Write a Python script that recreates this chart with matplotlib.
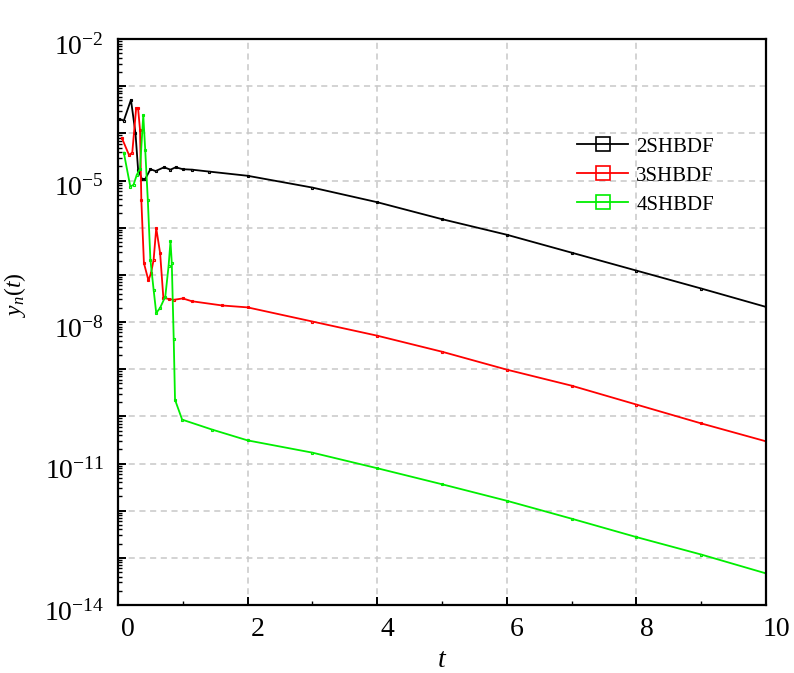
import numpy as np
import matplotlib
matplotlib.use("Agg")
import matplotlib.pyplot as plt
from matplotlib.ticker import LogLocator, FixedLocator, MultipleLocator, FuncFormatter
from matplotlib.transforms import ScaledTranslation
from matplotlib.lines import Line2D

plt.rcParams['font.family'] = ['Liberation Serif', 'DejaVu Serif']
plt.rcParams['mathtext.fontset'] = 'custom'
plt.rcParams['mathtext.rm'] = 'Liberation Serif'
plt.rcParams['mathtext.it'] = 'Liberation Serif:italic'

# data (log10 of y_n(t))
t_2 = [0.02, 0.09, 0.2, 0.27, 0.31, 0.37, 0.42, 0.5, 0.58, 0.71, 0.81, 0.89, 1.0, 1.14, 1.4,
       2, 3, 4, 5, 6, 7, 8, 9, 10]
logy_2 = [-3.70, -3.73, -3.29, -4.00, -4.77, -4.97, -4.97, -4.76, -4.80, -4.72, -4.77, -4.72, -4.76,
          -4.77, -4.81, -4.90, -5.15, -5.46, -5.82, -6.15, -6.53, -6.91, -7.29, -7.68]

t_3 = [0.06, 0.17, 0.22, 0.28, 0.31, 0.34, 0.36, 0.40, 0.47, 0.51, 0.55, 0.59, 0.65, 0.70,
       0.78, 0.86, 1.0, 1.14, 1.61, 2, 3, 4, 5, 6, 7, 8, 9, 10]
logy_3 = [-4.10, -4.46, -4.41, -3.47, -3.47, -3.93, -5.41, -6.75, -7.12, -6.96, -6.68, -6.01,
          -6.54, -7.49, -7.51, -7.53, -7.50, -7.56, -7.65, -7.69, -7.99, -8.29, -8.63, -9.01,
          -9.35, -9.75, -10.15, -10.53]

t_4 = [0.09, 0.19, 0.24, 0.29, 0.34, 0.39, 0.42, 0.46, 0.50, 0.55, 0.59, 0.65, 0.73, 0.78,
       0.81, 0.83, 0.86, 0.88, 0.99, 1.45, 2, 3, 4, 5, 6, 7, 8, 9, 10]
logy_4 = [-4.41, -5.13, -5.09, -4.88, -4.75, -3.61, -4.35, -5.41, -6.68, -7.32, -7.81, -7.70,
          -7.46, -6.82, -6.29, -6.75, -8.37, -9.65, -10.07, -10.28, -10.51, -10.77, -11.10,
          -11.44, -11.79, -12.17, -12.56, -12.93, -13.33]

names = ['2SHBDF', '3SHBDF', '4SHBDF']
colors = ['black', '#ff0000', '#00ee00']
y_label_exps = [-2, -5, -8, -11, -14]

fig = plt.figure(figsize=(7.94, 6.73), dpi=100)
ax = fig.add_axes([118/794, 1 - 605/673, (766 - 118)/794, (605 - 39)/673])

for t, ly, c in zip([t_2, t_3, t_4], [logy_2, logy_3, logy_4], colors):
    ax.plot(t, 10.0**np.array(ly), color=c, lw=1.3, marker='s', ms=2, mfc='none', mew=0.8)

ax.set_yscale('log')
ax.set_xlim(0, 10)
ax.set_ylim(1e-14, 1e-2)

ax.xaxis.set_major_locator(FixedLocator([0, 2, 4, 6, 8, 10]))
ax.xaxis.set_minor_locator(MultipleLocator(1))
ax.yaxis.set_major_locator(FixedLocator([10.0**e for e in range(-14, -1)]))
ax.yaxis.set_minor_locator(LogLocator(base=10, subs=np.arange(2, 10), numticks=100))

def ylab(v, pos):
    e = int(round(np.log10(v)))
    if e in y_label_exps:
        return r'$\mathregular{10^{%d}}$' % e
    return ''

ax.yaxis.set_major_formatter(FuncFormatter(ylab))
ax.yaxis.set_minor_formatter(FuncFormatter(lambda v, p: ''))

ax.tick_params(which='both', direction='in', top=False, right=False, colors='black')
ax.tick_params(which='major', length=6, width=1.4, labelsize=20)
ax.tick_params(axis='x', which='major', pad=9)
ax.tick_params(axis='y', which='major', pad=10)
ax.tick_params(which='minor', length=3, width=1.0)

for s in ax.spines.values():
    s.set_linewidth(1.6)

ax.grid(True, which='major', color='#c8c8c8', ls=(0, (4, 3)), lw=1.1)

for lab in ax.get_xticklabels():
    lab.set_transform(lab.get_transform() + ScaledTranslation(10/100, 0, fig.dpi_scale_trans))
for lab in ax.get_yticklabels():
    lab.set_transform(lab.get_transform() + ScaledTranslation(0, -5/100, fig.dpi_scale_trans))

ax.set_xlabel(r'$t$', fontsize=20, labelpad=4)
ax.set_ylabel(r'$y_n(t)$', fontsize=17)
ax.yaxis.set_label_coords((28 - 118)/648, (605 - 295)/566)

handles = [Line2D([], [], color=c, lw=1.3, marker='s', ms=10, mfc='none', mew=1.2) for c in colors]
ax.legend(handles, names, loc='upper left', bbox_to_anchor=((577 - 118)/648, (605 - 137)/566),
          frameon=False, fontsize=15, borderpad=0, borderaxespad=0, handlelength=2.45,
          handletextpad=0.4, labelspacing=0.45)

fig.savefig('out.png', dpi=100)
